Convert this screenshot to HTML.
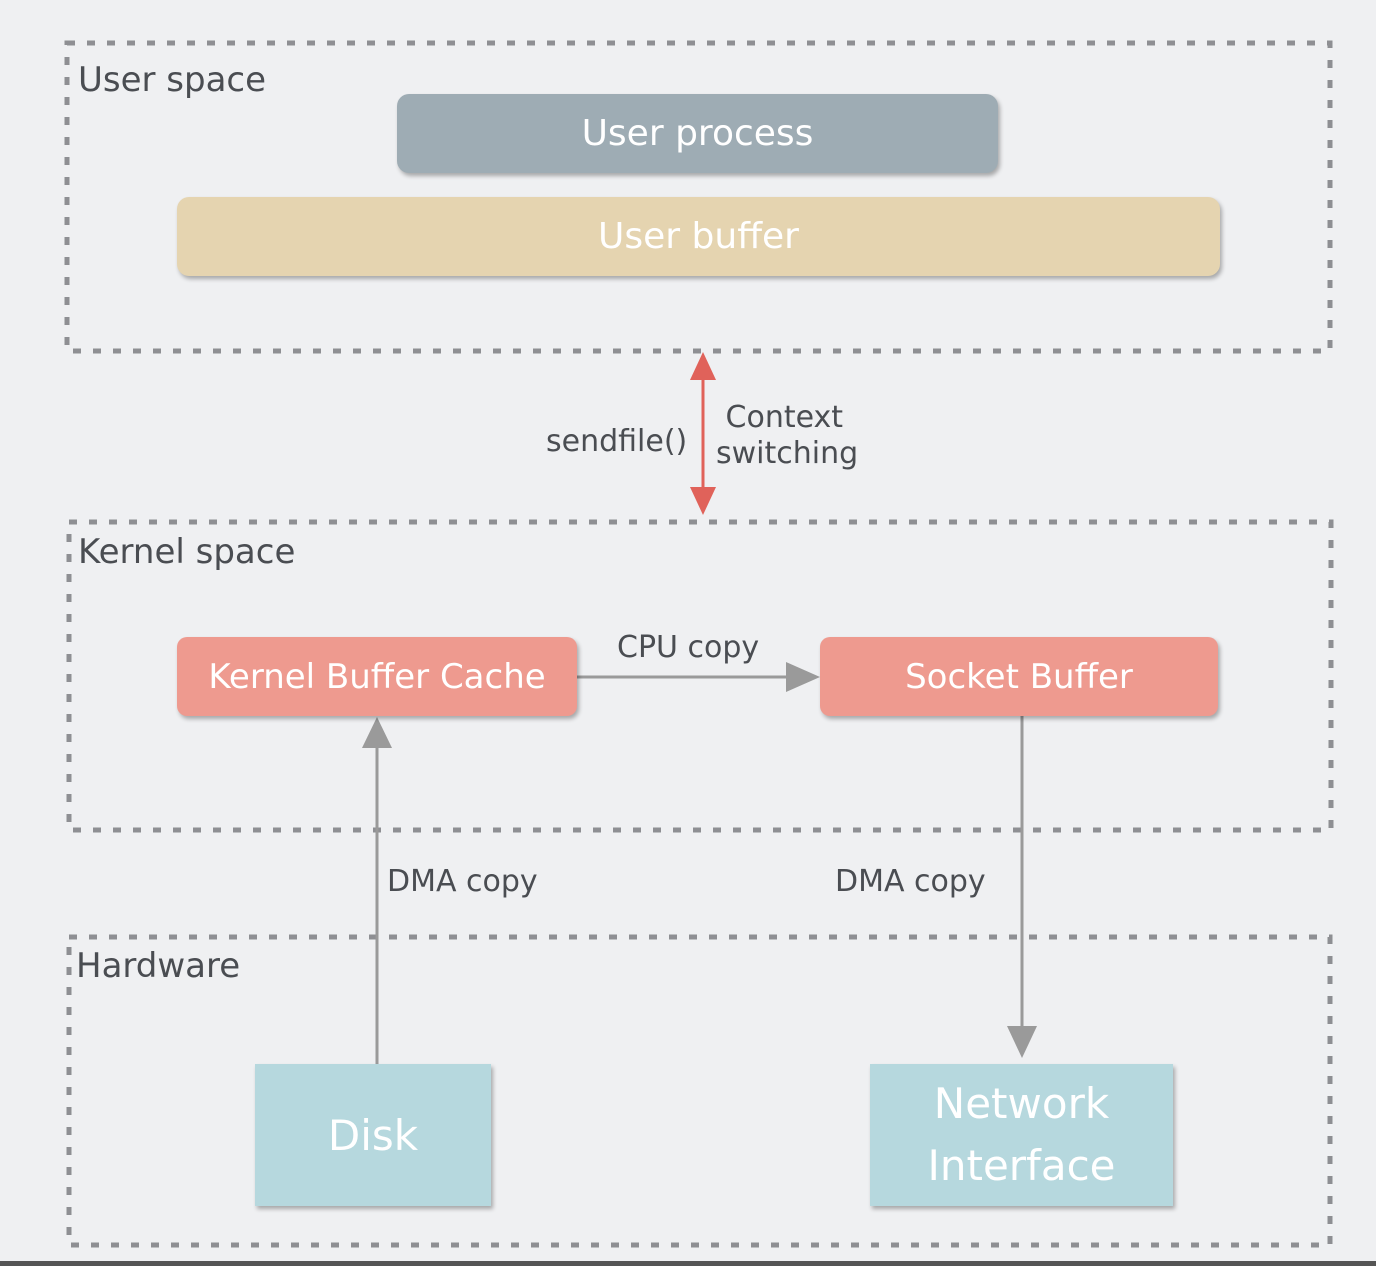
<!DOCTYPE html>
<html><head><style>
body{margin:0;width:1376px;height:1266px;background:#eff0f2;overflow:hidden;position:relative;font-family:"DejaVu Sans","Liberation Sans",sans-serif;}
.lbl{position:absolute;color:#4a4d52;font-size:34px;}
.box{position:absolute;color:#fff;display:flex;align-items:center;justify-content:center;text-align:center;box-shadow:2px 3px 4px rgba(0,0,0,.3);}
</style></head><body>
<svg width="1376" height="1266" style="position:absolute;left:0;top:0">
<g fill="none" stroke="#8e8f93" stroke-width="5" stroke-dasharray="8 12">
<rect x="67" y="43" width="1263" height="308"/>
<rect x="69" y="522" width="1262" height="308"/>
<rect x="69" y="937" width="1261" height="308"/>
</g>
<g stroke="#9a9a9a" stroke-width="3" fill="#9a9a9a">
<line x1="377" y1="1064" x2="377" y2="745"/>
<polygon points="377,717 362,748 392,748" stroke="none"/>
<line x1="577" y1="677" x2="790" y2="677"/>
<polygon points="820,677 786,662 786,692" stroke="none"/>
<line x1="1022" y1="716" x2="1022" y2="1030"/>
<polygon points="1022,1058 1007,1026 1037,1026" stroke="none"/>
</g>
<g stroke="#e0625a" stroke-width="3" fill="#e0625a">
<line x1="703" y1="375" x2="703" y2="492"/>
<polygon points="703,352 690,380 716,380" stroke="none"/>
<polygon points="703,515 690,487 716,487" stroke="none"/>
</g>
<rect x="0" y="1261" width="1376" height="5" fill="#555"/>
</svg>
<div class="lbl" style="left:78px;top:60px">User space</div>
<div class="lbl" style="left:78px;top:532px">Kernel space</div>
<div class="lbl" style="left:76px;top:946px">Hardware</div>
<div class="lbl" style="left:546px;top:424px;font-size:30px">sendfile()</div>
<div class="lbl" style="left:716px;top:400px;font-size:30px;line-height:36px">&nbsp;Context<br>switching</div>
<div class="lbl" style="left:617px;top:630px;font-size:30px">CPU copy</div>
<div class="lbl" style="left:387px;top:864px;font-size:30px">DMA copy</div>
<div class="lbl" style="left:835px;top:864px;font-size:30px">DMA copy</div>
<div class="box" style="left:397px;top:94px;width:601px;height:79px;background:#9eacb4;border-radius:12px;font-size:36px">User process</div>
<div class="box" style="left:177px;top:197px;width:1043px;height:79px;background:#e5d4b0;border-radius:12px;font-size:36px">User buffer</div>
<div class="box" style="left:177px;top:637px;width:400px;height:79px;background:#ee9a8f;border-radius:10px;font-size:34px">Kernel Buffer Cache</div>
<div class="box" style="left:820px;top:637px;width:398px;height:79px;background:#ee9a8f;border-radius:10px;font-size:34px">Socket Buffer</div>
<div class="box" style="left:255px;top:1064px;width:236px;height:142px;background:#b6d8de;font-size:42px">Disk</div>
<div class="box" style="left:870px;top:1064px;width:303px;height:142px;background:#b6d8de;font-size:42px;line-height:62px">Network<br>Interface</div>
</body></html>
